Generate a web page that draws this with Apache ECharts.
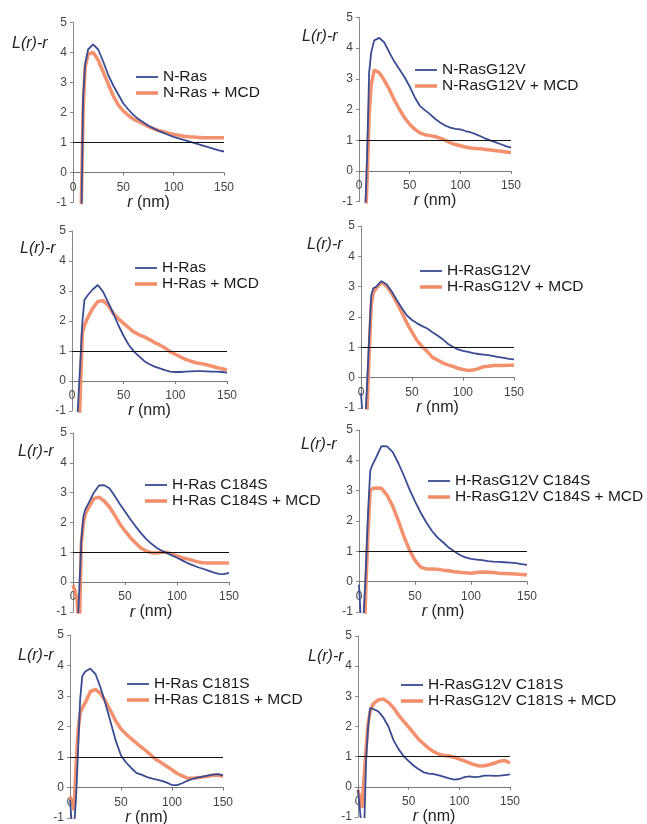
<!DOCTYPE html>
<html>
<head>
<meta charset="utf-8">
<script src="https://cdn.jsdelivr.net/npm/echarts@6/dist/echarts.min.js"></script>
<style>
  html, body { margin: 0; padding: 0; background: #fff; }
  #chart { width: 647px; height: 824px; }
</style>
</head>
<body>
<div id="chart"></div>
<script>
// r (nm) sample points shared by every curve
const R = [0, 2, 4, 6, 8, 10, 12, 15, 20, 25, 30, 35, 40, 45, 50, 55, 60, 65, 70, 75,
  80, 85, 90, 95, 100, 105, 110, 115, 120, 125, 130, 135, 140, 145, 150];

const xTicks = [0, 50, 100, 150];
const yTicks = [-1, 0, 1, 2, 3, 4, 5];

// N-Ras
const nRas = [null, null, null, null, -2.5, 2.5, 3.6, 4.1, 4.27, 4.1, 3.7, 3.25, 2.9, 2.6, 2.3, 2.1, 1.92, 1.78, 1.67, 1.56,
  1.47, 1.39, 1.32, 1.25, 1.19, 1.14, 1.09, 1.04, 0.99, 0.94, 0.89, 0.84, 0.79, 0.74, 0.7];
const nRasMcd = [null, null, null, null, -1.5, 2.0, 3.5, 3.95, 4.0, 3.75, 3.35, 2.95, 2.55, 2.25, 2.05, 1.9, 1.78, 1.7, 1.62, 1.53,
  1.46, 1.4, 1.36, 1.31, 1.27, 1.24, 1.21, 1.19, 1.18, 1.17, 1.16, 1.16, 1.16, 1.16, 1.16];
// N-RasG12V
const nG12v = [null, null, null, -1.5, 0.5, 3.2, 3.85, 4.25, 4.33, 4.18, 3.85, 3.55, 3.3, 3.05, 2.75, 2.4, 2.12, 1.98, 1.85, 1.7,
  1.58, 1.48, 1.41, 1.37, 1.35, 1.3, 1.26, 1.2, 1.13, 1.05, 0.99, 0.93, 0.87, 0.81, 0.76];
const nG12vMcd = [null, null, null, -2.0, -0.3, 1.8, 2.8, 3.28, 3.2, 2.95, 2.65, 2.3, 2.0, 1.73, 1.52, 1.36, 1.24, 1.18, 1.15, 1.12,
  1.07, 1.0, 0.92, 0.86, 0.82, 0.78, 0.75, 0.73, 0.72, 0.7, 0.68, 0.66, 0.64, 0.62, 0.6];
// H-Ras
const hRas = [null, null, -2.0, -0.7, 0.6, 1.95, 2.7, 2.85, 3.05, 3.2, 2.98, 2.62, 2.25, 1.85, 1.5, 1.2, 0.98, 0.82, 0.66, 0.56,
  0.48, 0.42, 0.36, 0.31, 0.3, 0.3, 0.31, 0.32, 0.33, 0.33, 0.32, 0.31, 0.31, 0.3, 0.28];
const hRasMcd = [null, null, null, -2.5, -0.5, 1.6, 1.85, 2.1, 2.42, 2.65, 2.68, 2.52, 2.25, 2.07, 1.92, 1.77, 1.63, 1.54, 1.47, 1.38,
  1.28, 1.2, 1.1, 0.98, 0.89, 0.8, 0.72, 0.66, 0.61, 0.58, 0.54, 0.5, 0.45, 0.41, 0.37];
// H-RasG12V
const hG12v = [-0.5, -1.5, -1.5, -0.2, 1.3, 2.7, 2.95, 3.0, 3.18, 3.08, 2.85, 2.56, 2.3, 2.05, 1.9, 1.79, 1.7, 1.62, 1.5, 1.39,
  1.27, 1.12, 1.02, 0.93, 0.88, 0.85, 0.81, 0.78, 0.76, 0.74, 0.71, 0.68, 0.65, 0.62, 0.6];
const hG12vMcd = [null, null, -3.0, -1.0, 0.8, 2.4, 2.8, 2.95, 3.15, 3.02, 2.78, 2.48, 2.15, 1.8, 1.5, 1.22, 1.02, 0.86, 0.67, 0.58,
  0.49, 0.42, 0.37, 0.31, 0.27, 0.24, 0.25, 0.3, 0.36, 0.38, 0.4, 0.4, 0.4, 0.41, 0.41];
// H-Ras C184S
const hC184s = [null, null, -1.8, -0.3, 1.4, 2.2, 2.45, 2.65, 3.0, 3.24, 3.25, 3.15, 2.9, 2.62, 2.37, 2.12, 1.88, 1.66, 1.46, 1.3,
  1.16, 1.06, 0.98, 0.9, 0.82, 0.73, 0.64, 0.57, 0.5, 0.45, 0.39, 0.33, 0.28, 0.27, 0.31];
const hC184sMcd = [-0.1, -0.3, -0.6, -1.8, 1.3, 2.0, 2.3, 2.5, 2.8, 2.85, 2.72, 2.52, 2.25, 1.95, 1.72, 1.5, 1.32, 1.15, 1.05, 0.99,
  0.98, 1.0, 1.0, 0.95, 0.88, 0.82, 0.78, 0.73, 0.68, 0.65, 0.64, 0.64, 0.64, 0.64, 0.64];
// H-RasG12V C184S
const hG12vC184s = [-0.1, -1.5, -1.2, 0.3, 2.2, 3.65, 3.85, 4.07, 4.47, 4.46, 4.28, 3.92, 3.5, 3.05, 2.65, 2.28, 1.96, 1.68, 1.46, 1.3,
  1.13, 1.0, 0.88, 0.8, 0.75, 0.73, 0.71, 0.68, 0.66, 0.65, 0.64, 0.63, 0.61, 0.58, 0.55];
const hG12vC184sMcd = [null, null, -3.0, -0.3, 1.6, 3.0, 3.07, 3.09, 3.08, 2.85, 2.5, 2.02, 1.5, 1.05, 0.7, 0.48, 0.42, 0.42, 0.41, 0.38,
  0.36, 0.33, 0.31, 0.29, 0.28, 0.3, 0.32, 0.31, 0.3, 0.28, 0.27, 0.26, 0.25, 0.24, 0.23];
// H-Ras C181S
const hC181s = [-0.4, -1.3, -1.3, -0.3, 1.3, 2.9, 3.65, 3.8, 3.9, 3.72, 3.27, 2.72, 2.12, 1.52, 1.05, 0.82, 0.64, 0.48, 0.42, 0.35,
  0.3, 0.26, 0.22, 0.16, 0.08, 0.08, 0.14, 0.22, 0.28, 0.32, 0.36, 0.39, 0.42, 0.44, 0.4];
const hC181sMcd = [-0.3, -0.5, -0.75, 0.8, 1.9, 2.45, 2.6, 2.78, 3.15, 3.22, 3.08, 2.82, 2.5, 2.17, 1.92, 1.75, 1.6, 1.46, 1.32, 1.19,
  1.04, 0.9, 0.8, 0.69, 0.58, 0.46, 0.38, 0.31, 0.3, 0.32, 0.34, 0.37, 0.4, 0.41, 0.37];
// H-RasG12V C181S
const hG12vC181s = [-0.1, -0.8, -1.5, -1.5, 0.9, 2.0, 2.62, 2.58, 2.5, 2.3, 2.0, 1.55, 1.25, 1.02, 0.85, 0.7, 0.58, 0.48, 0.44, 0.42,
  0.38, 0.33, 0.28, 0.24, 0.26, 0.32, 0.35, 0.32, 0.34, 0.37, 0.37, 0.36, 0.37, 0.39, 0.41];
const hG12vC181sMcd = [-0.1, -0.4, -0.7, 0.3, 1.3, 2.1, 2.5, 2.75, 2.88, 2.91, 2.8, 2.62, 2.38, 2.18, 1.98, 1.78, 1.57, 1.42, 1.27, 1.16,
  1.08, 1.04, 1.02, 0.98, 0.92, 0.86, 0.79, 0.73, 0.69, 0.7, 0.74, 0.79, 0.85, 0.87, 0.79];

const FONT = '"Liberation Sans", Arial, sans-serif';
const BLUE = '#3a4c92';
const ORANGE = '#f28a66';

// panel layout: grid [left, top, width, height], legend [left, top], y label [left, top]
const panels = [
  { grid: [73, 22.5, 151, 180], legend: [136, 69], yName: [12, 36], gap: 16, names: ['N-Ras', 'N-Ras + MCD'], blue: nRas, orange: nRasMcd },
  { grid: [359, 17.3, 152, 184.4], legend: [415, 62], yName: [302, 29], gap: 20, names: ['N-RasG12V', 'N-RasG12V + MCD'], blue: nG12v, orange: nG12vMcd },
  { grid: [72, 231, 155, 180], legend: [135, 260], yName: [20, 241], gap: 16, names: ['H-Ras', 'H-Ras + MCD'], blue: hRas, orange: hRasMcd },
  { grid: [361, 226, 153, 182], legend: [420, 263], yName: [307, 237], gap: 18, names: ['H-RasG12V', 'H-RasG12V + MCD'], blue: hG12v, orange: hG12vMcd },
  { grid: [73, 433, 156, 179], legend: [145, 477], yName: [18, 444], gap: 19, names: ['H-Ras C184S', 'H-Ras C184S + MCD'], blue: hC184s, orange: hC184sMcd },
  { grid: [359, 430, 168, 182], legend: [428, 473], yName: [301, 437], gap: 21, names: ['H-RasG12V C184S', 'H-RasG12V C184S + MCD'], blue: hG12vC184s, orange: hG12vC184sMcd },
  { grid: [70, 635, 153, 183], legend: [127, 676], yName: [18, 648], gap: 21, names: ['H-Ras C181S', 'H-Ras C181S + MCD'], blue: hC181s, orange: hC181sMcd },
  { grid: [358, 636, 152, 181], legend: [401, 677], yName: [308, 649], gap: 21, names: ['H-RasG12V C181S', 'H-RasG12V C181S + MCD'], blue: hG12vC181s, orange: hG12vC181sMcd },
];

function pairs(values) {
  return R.map((r, k) => [r, values[k]]).filter((d) => d[1] !== null);
}

const grid = [];
const xAxis = [];
const yAxis = [];
const series = [];
const legend = [];
const graphic = [];

panels.forEach((p, i) => {
  grid.push({
    left: p.grid[0], top: p.grid[1], width: p.grid[2], height: p.grid[3],
    containLabel: false, outerBoundsMode: 'none',
  });
  // x axis sits at y = 0, one unit above the bottom of the -1..5 range
  xAxis.push({
    gridIndex: i,
    type: 'value',
    min: xTicks[0],
    max: xTicks[xTicks.length - 1],
    interval: 50,
    offset: -p.grid[3] / (yTicks.length - 1),
    name: '{i|r} (nm)',
    nameLocation: 'middle',
    nameGap: p.gap,
    nameTextStyle: {
      fontFamily: FONT, fontSize: 16, color: '#222',
      rich: { i: { fontFamily: FONT, fontSize: 16, fontStyle: 'italic', color: '#222' } },
    },
    axisLine: { onZero: false, lineStyle: { color: '#777', width: 1 } },
    axisTick: { length: 3, lineStyle: { color: '#777' } },
    axisLabel: { fontFamily: FONT, fontSize: 12, color: '#444', margin: 9 },
    splitLine: { show: false },
  });
  yAxis.push({
    gridIndex: i,
    type: 'value',
    min: yTicks[0],
    max: yTicks[yTicks.length - 1],
    interval: 1,
    axisLine: { show: true, lineStyle: { color: '#888', width: 1 } },
    axisTick: { show: true, length: 3, lineStyle: { color: '#888' } },
    axisLabel: { fontFamily: FONT, fontSize: 12, color: '#444', margin: 6 },
    splitLine: { show: false },
  });
  // orange (+ MCD) first, blue drawn on top
  series.push({
    name: p.names[1],
    type: 'line',
    xAxisIndex: i,
    yAxisIndex: i,
    data: pairs(p.orange),
    symbol: 'none',
    lineStyle: { color: ORANGE, width: 3.5, opacity: 0.95 },
    itemStyle: { color: ORANGE },
    markLine: {
      silent: true,
      symbol: 'none',
      label: { show: false },
      lineStyle: { color: '#111', width: 1, type: 'solid' },
      data: [{ yAxis: 1 }],
    },
  });
  series.push({
    name: p.names[0],
    type: 'line',
    xAxisIndex: i,
    yAxisIndex: i,
    data: pairs(p.blue),
    symbol: 'none',
    lineStyle: { color: BLUE, width: 1.8 },
    itemStyle: { color: BLUE },
  });
  // plain line keys, no symbol
  legend.push({
    left: p.legend[0],
    top: p.legend[1],
    orient: 'vertical',
    padding: 0,
    itemGap: 0,
    itemWidth: 22,
    itemHeight: 14,
    selectedMode: false,
    data: [
      { name: p.names[0], icon: 'path://M0,0H22V1.8H0Z' },
      { name: p.names[1], icon: 'path://M0,0H22V3.5H0Z' },
    ],
    textStyle: { fontFamily: FONT, fontSize: 15.5, color: '#1a1a1a', lineHeight: 16 },
  });
  graphic.push({
    type: 'text',
    left: p.yName[0],
    top: p.yName[1],
    style: { text: 'L(r)-r', font: 'italic 16px ' + FONT, fill: '#222' },
  });
});

const chart = echarts.init(document.getElementById('chart'));
chart.setOption({
  animation: false,
  backgroundColor: '#fff',
  grid,
  xAxis,
  yAxis,
  series,
  legend,
  graphic,
});
</script>
</body>
</html>
